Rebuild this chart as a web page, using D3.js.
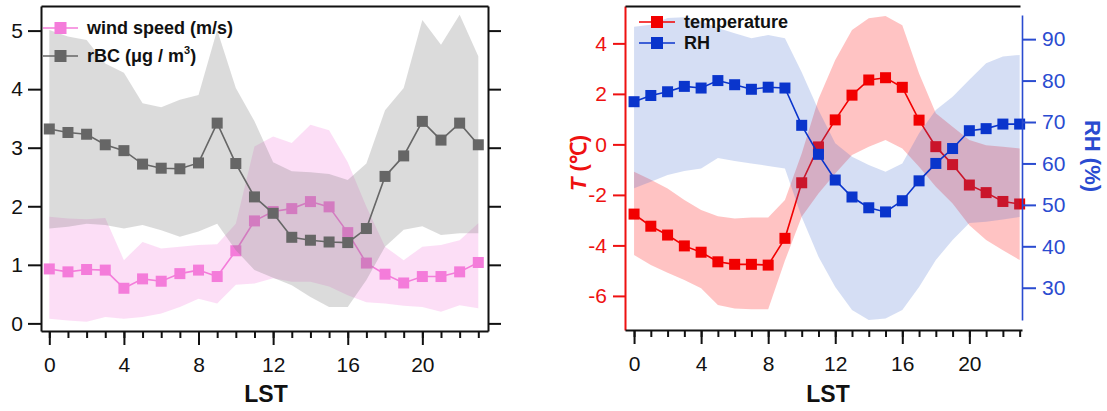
<!DOCTYPE html>
<html><head><meta charset="utf-8">
<script src="https://cdn.jsdelivr.net/npm/d3@7"></script>
<style>
body{margin:0;background:#fff}
svg{font-family:"Liberation Sans",Arial,Helvetica,sans-serif}
</style>
</head><body>
<svg id="chart" width="1107" height="411"></svg>
<script>
// ---------- DATA ----------
const hours = [0,1,2,3,4,5,6,7,8,9,10,11,12,13,14,15,16,17,18,19,20,21,22,23];
const xMajorTicks = [0,4,8,12,16,20];

// left panel
const windSpeed      = [0.93,0.88,0.92,0.91,0.60,0.76,0.72,0.85,0.91,0.80,1.24,1.75,1.91,1.96,2.08,1.99,1.55,1.03,0.84,0.69,0.80,0.80,0.88,1.04];
const windSpeedUpper = [1.82,1.79,1.78,1.80,1.08,1.39,1.28,1.31,1.34,1.35,1.70,3.02,3.19,3.08,3.39,3.30,2.75,1.99,1.31,1.08,1.31,1.34,1.42,1.71];
const windSpeedLower = [0.08,0.05,0.03,0.11,0.08,0.11,0.17,0.28,0.42,0.34,0.66,0.68,0.77,0.71,0.71,0.63,0.48,0.36,0.34,0.30,0.28,0.20,0.31,0.26];
const rBC            = [3.32,3.26,3.23,3.05,2.95,2.72,2.65,2.64,2.74,3.42,2.73,2.16,1.88,1.47,1.42,1.39,1.38,1.62,2.51,2.86,3.45,3.13,3.42,3.05];
const rBCUpper       = [5.01,4.90,4.84,4.44,4.28,3.76,3.69,3.82,3.90,5.01,4.02,3.45,2.75,2.60,2.58,2.55,2.45,2.73,3.64,4.02,5.18,4.76,5.27,4.56];
const rBCLower       = [1.62,1.65,1.70,1.68,1.62,1.68,1.59,1.48,1.57,1.70,1.25,0.91,0.78,0.65,0.45,0.28,0.28,0.74,1.31,1.60,1.66,1.51,1.54,1.54];
const leftYTicks = [0,1,2,3,4,5];

// right panel
const temperature = [-2.76,-3.24,-3.59,-4.02,-4.27,-4.65,-4.75,-4.75,-4.78,-3.72,-1.52,-0.10,0.97,1.95,2.55,2.64,2.26,0.96,-0.09,-0.80,-1.61,-1.91,-2.26,-2.36];
const tempUpper   = [-1.08,-1.40,-1.75,-2.20,-2.60,-2.85,-2.93,-2.90,-2.90,-2.20,-0.36,1.80,3.34,4.53,4.99,5.08,4.72,2.81,1.23,0.70,0.17,-0.03,-0.09,-0.16];
const tempLower   = [-4.38,-4.78,-5.08,-5.37,-5.70,-6.36,-6.50,-6.53,-6.53,-4.60,-2.87,-1.94,-1.15,-0.42,-0.09,0.17,-0.16,-0.89,-1.68,-2.34,-3.20,-3.79,-4.19,-4.58];
const rh          = [74.9,76.4,77.3,78.6,78.2,80.0,79.0,77.9,78.4,78.2,69.2,62.2,56.0,51.9,49.3,48.3,51.0,55.8,60.0,63.6,67.9,68.4,69.5,69.5];
const rhUpper     = [93.0,93.5,95.1,95.3,94.3,92.7,91.4,90.2,91.0,90.2,82.0,72.9,64.9,61.6,59.6,58.0,60.0,67.3,72.9,76.1,80.2,84.2,85.8,86.2];
const rhLower     = [54.0,55.6,57.2,58.2,58.8,61.3,60.6,60.0,59.4,58.8,47.1,37.5,30.2,24.6,22.2,22.6,24.6,30.2,36.7,41.5,45.6,45.9,46.5,47.1];
const tempTicks = [-6,-4,-2,0,2,4];
const rhTicks = [30,40,50,60,70,80,90];

// ---------- STYLE ----------
const PINK = "#F47CDA", GRAY = "#666666", RED = "#F20000", BLUE = "#0A35CC";
const RED_AXIS = "#EE1111", BLUE_AXIS = "#2A4BD0";
const svg = d3.select("#chart");
const AXW = 2;
const intFmt = d => d < 0 ? "-" + Math.abs(d) : String(d);

function styleAxis(g, color, fs){
  g.selectAll("path.domain").attr("stroke", color).attr("stroke-width", AXW);
  g.selectAll(".tick line").attr("stroke", color).attr("stroke-width", AXW);
  g.selectAll(".tick text").attr("fill", color).style("font-size", fs + "px")
    .attr("font-family","'Liberation Sans',Arial,sans-serif");
}

function drawBand(x, y, up, lo, color, op){
  const area = d3.area().x((d,i)=>x(hours[i])).y0((d,i)=>y(lo[i])).y1((d,i)=>y(up[i]));
  svg.append("path").datum(hours).attr("d", area).attr("fill", color).attr("fill-opacity", op);
}
function drawSeries(x, y, vals, color, ms){
  const line = d3.line().x((d,i)=>x(hours[i])).y((d,i)=>y(vals[i]));
  svg.append("path").datum(hours).attr("d", line).attr("fill","none").attr("stroke",color).attr("stroke-width",1.6);
  svg.append("g").selectAll("rect").data(hours).join("rect")
    .attr("x", (d,i)=>x(hours[i]) - ms/2).attr("y", (d,i)=>y(vals[i]) - ms/2)
    .attr("width", ms).attr("height", ms).attr("fill", color);
}
function bottomAxis(x, yPos, color){
  const gMin = svg.append("g").attr("transform",`translate(0,${yPos})`)
    .call(d3.axisBottom(x).tickValues(hours).tickSize(7).tickSizeOuter(0).tickFormat(""));
  styleAxis(gMin, color, 21);
  const gMaj = svg.append("g").attr("transform",`translate(0,${yPos})`)
    .call(d3.axisBottom(x).tickValues(xMajorTicks).tickSize(14).tickSizeOuter(0).tickPadding(12).tickFormat(intFmt));
  gMaj.select("path.domain").remove();
  styleAxis(gMaj, color, 21);
}

// ---------- LEFT PANEL ----------
const xL = d3.scaleLinear().domain([-0.445, 23.52]).range([41, 488]);
const yL = d3.scaleLinear().domain([-0.13, 5.42]).range([331, 6]);

drawBand(xL, yL, windSpeedUpper, windSpeedLower, PINK, 0.25);
drawSeries(xL, yL, windSpeed, PINK, 11);
drawBand(xL, yL, rBCUpper, rBCLower, "#7A7A7A", 0.27);
drawSeries(xL, yL, rBC, GRAY, 11);

let g;
g = svg.append("g").attr("transform","translate(41,0)")
  .call(d3.axisLeft(yL).tickValues(leftYTicks).tickSize(13).tickSizeOuter(0).tickPadding(5).tickFormat(intFmt));
styleAxis(g, "#111", 21);
g = svg.append("g").attr("transform","translate(488,0)")
  .call(d3.axisRight(yL).tickValues(leftYTicks).tickSize(13).tickSizeOuter(0).tickFormat(""));
styleAxis(g, "#111", 21);
g = svg.append("g").attr("transform","translate(0,6)")
  .call(d3.axisTop(xL).tickValues([]).tickSizeOuter(0));
styleAxis(g, "#111", 21);
bottomAxis(xL, 331, "#111");

svg.append("text").attr("x", 266).attr("y", 402).attr("text-anchor","middle")
  .style("font-size","23px").style("font-weight","bold").attr("fill","#111").text("LST");

// legend
function legendRow(x0, x1, y, color, ms){
  svg.append("line").attr("x1",x0).attr("x2",x1).attr("y1",y).attr("y2",y).attr("stroke",color).attr("stroke-width",1.6);
  svg.append("rect").attr("x",(x0+x1)/2-ms/2).attr("y",y-ms/2).attr("width",ms).attr("height",ms).attr("fill",color);
  return svg.append("text").attr("x", x1+9).attr("y", y+6).style("font-size","18px").style("font-weight","bold").attr("fill","#111");
}
legendRow(43, 78, 28, PINK, 12).text("wind speed (m/s)");
const t2 = legendRow(43, 78, 56, GRAY, 12);
t2.append("tspan").text("rBC (\u03bcg / m");
t2.append("tspan").attr("dy",-8).style("font-size","11px").text("3");
t2.append("tspan").attr("dy",8).text(")");

// ---------- RIGHT PANEL ----------
const xR = d3.scaleLinear().domain([-0.54, 23.14]).range([625, 1022]);
const yT = d3.scaleLinear().domain([-7.35, 5.48]).range([330, 6]);
const yRH = d3.scaleLinear().domain([19.8, 98.0]).range([330, 6]);

drawBand(xR, yT, tempUpper, tempLower, "#FF2020", 0.27);
drawSeries(xR, yT, temperature, RED, 11);
drawBand(xR, yRH, rhUpper, rhLower, "#3A64CC", 0.21);
drawSeries(xR, yRH, rh, BLUE, 11);

g = svg.append("g").attr("transform","translate(625,0)")
  .call(d3.axisLeft(yT).tickValues(tempTicks).tickSize(12).tickSizeOuter(0).tickPadding(6).tickFormat(intFmt));
styleAxis(g, RED_AXIS, 21);
const yRHaxis = d3.scaleLinear().domain([22.2, 95.8]).range([yRH(22.2), yRH(95.8)]);
g = svg.append("g").attr("transform","translate(1022,0)")
  .call(d3.axisRight(yRHaxis).tickValues(rhTicks).tickSize(14).tickSizeOuter(0).tickPadding(6).tickFormat(intFmt));
styleAxis(g, BLUE_AXIS, 21);
g.selectAll("path.domain").attr("stroke-width", 1.6);
g = svg.append("g").attr("transform","translate(0,6)")
  .call(d3.axisTop(d3.scaleLinear().domain([0,1]).range([625,1020])).tickValues([]).tickSizeOuter(0));
styleAxis(g, "#111", 21);
bottomAxis(xR, 330, "#111");

svg.append("text").attr("x", 828).attr("y", 402).attr("text-anchor","middle")
  .style("font-size","23px").style("font-weight","bold").attr("fill","#111").text("LST");

// axis titles
const tT = svg.append("text").attr("transform","translate(586,163) rotate(-90)").attr("text-anchor","middle")
  .style("font-size","22px").style("font-weight","bold").attr("fill", RED_AXIS);
tT.append("tspan").style("font-style","italic").text("T");
tT.append("tspan").text(" (\u2103)");
svg.append("text").attr("transform","translate(1085,156) rotate(90)").attr("text-anchor","middle")
  .style("font-size","22px").style("font-weight","bold").attr("fill", BLUE_AXIS).text("RH (%)");

legendRow(639, 675, 22, RED, 12).text("temperature");
legendRow(639, 675, 43, BLUE, 12).text("RH");
</script>
</body></html>
